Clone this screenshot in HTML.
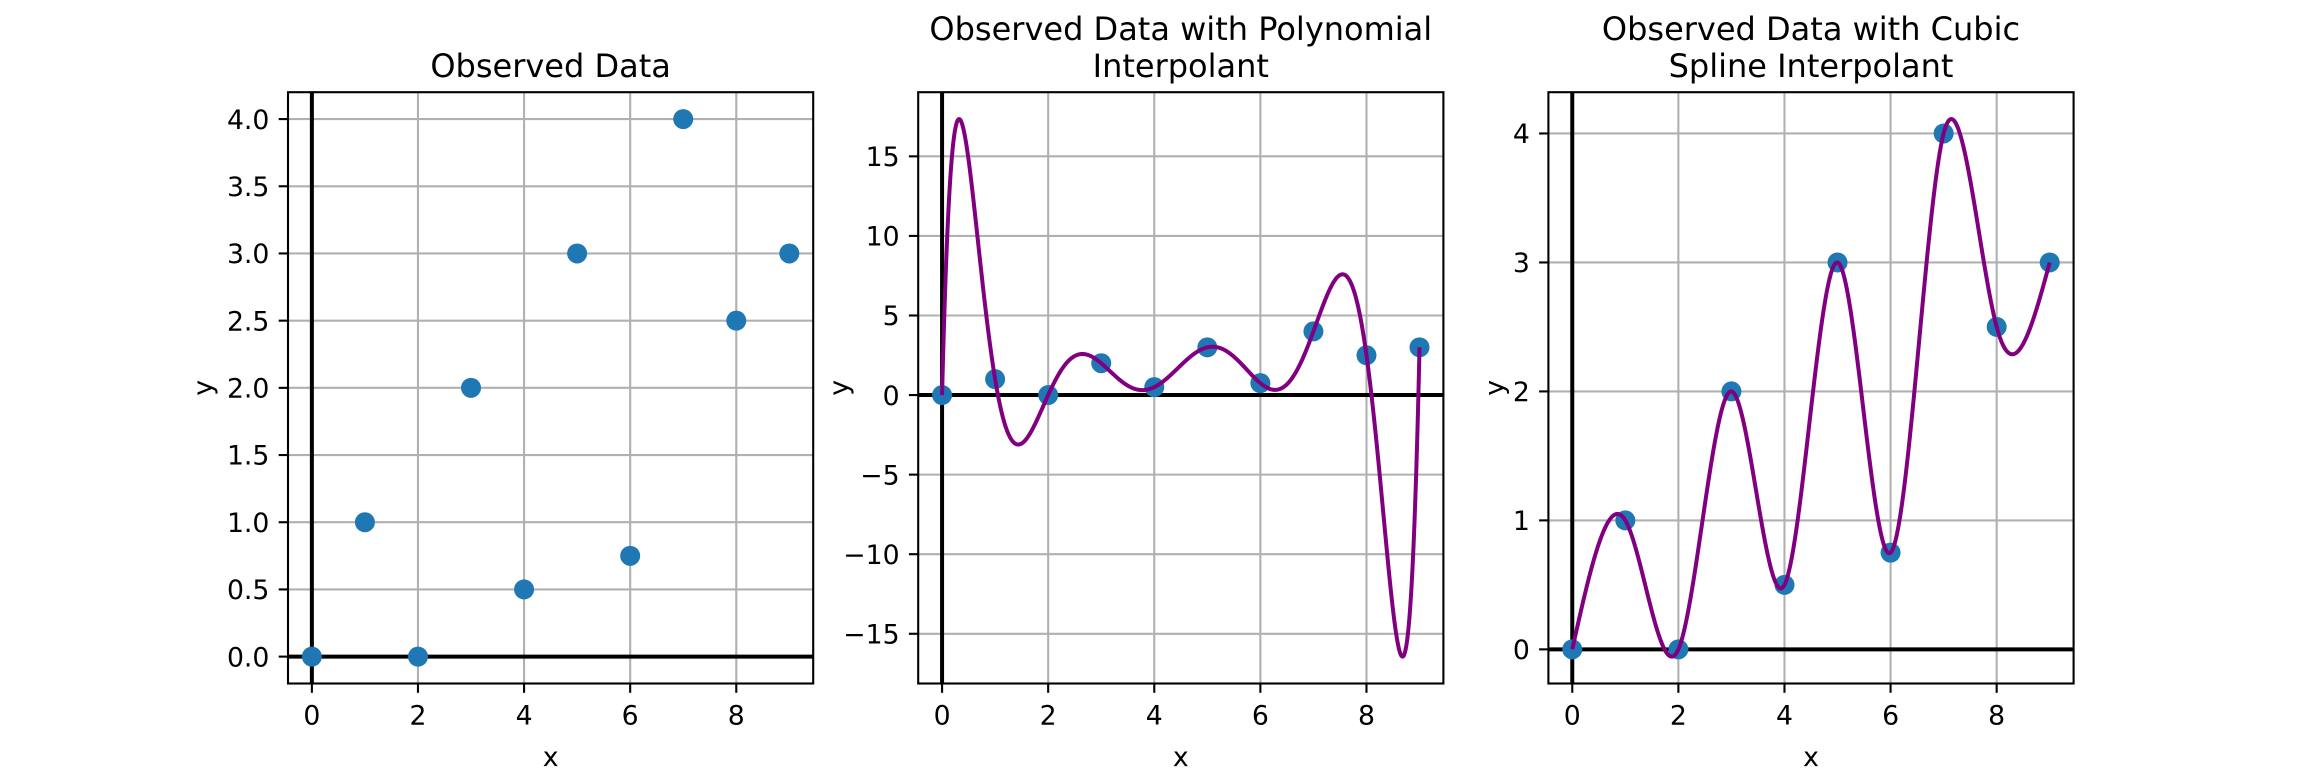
<!DOCTYPE html>
<html><head><meta charset="utf-8"><style>
html,body{margin:0;padding:0;background:#fff}
svg{display:block}
text{font-family:"DejaVu Sans","Liberation Sans",sans-serif;fill:#000}
</style></head><body>
<svg id="fig" width="2304" height="768" viewBox="0 0 2304 768" xmlns="http://www.w3.org/2000/svg"></svg>
<script>
const xData = [0,1,2,3,4,5,6,7,8,9];
const yData = [0,1,0,2,0.5,3,0.75,4,2.5,3];
const xTicks = [0,2,4,6,8];
const yTicks1 = [0,0.5,1,1.5,2,2.5,3,3.5,4];
const yTicks2 = [-15,-10,-5,0,5,10,15];
const yTicks3 = [0,1,2,3,4];
const titles = [["Observed Data"],["Observed Data with Polynomial","Interpolant"],["Observed Data with Cubic","Spline Interpolant"]];

const NS="http://www.w3.org/2000/svg";
const svg=document.getElementById('fig');
function mk(tag,attrs,parent){const e=document.createElementNS(NS,tag);for(const k in attrs)e.setAttribute(k,attrs[k]);(parent||svg).appendChild(e);return e;}

function poly(x){let s=0;for(let i=0;i<xData.length;i++){let l=1;for(let j=0;j<xData.length;j++){if(j!==i)l*=(x-xData[j])/(xData[i]-xData[j]);}s+=yData[i]*l;}return s;}
function solve(A,b){const n=b.length;A=A.map(r=>r.slice());b=b.slice();for(let i=0;i<n;i++){let p=i;for(let r=i+1;r<n;r++)if(Math.abs(A[r][i])>Math.abs(A[p][i]))p=r;[A[i],A[p]]=[A[p],A[i]];[b[i],b[p]]=[b[p],b[i]];for(let r=i+1;r<n;r++){const f=A[r][i]/A[i][i];for(let c=i;c<n;c++)A[r][c]-=f*A[i][c];b[r]-=f*b[i];}}const x=new Array(n).fill(0);for(let i=n-1;i>=0;i--){let s=b[i];for(let c=i+1;c<n;c++)s-=A[i][c]*x[c];x[i]=s/A[i][i];}return x;}
const n=xData.length;const h=[];for(let i=0;i<n-1;i++)h.push(xData[i+1]-xData[i]);
const A=[];const B=[];
for(let i=0;i<n;i++){A.push(new Array(n).fill(0));B.push(0);}
A[0][0]=1;A[n-1][n-1]=1;
for(let i=1;i<n-1;i++){A[i][i-1]=h[i-1];A[i][i]=2*(h[i-1]+h[i]);A[i][i+1]=h[i];B[i]=6*((yData[i+1]-yData[i])/h[i]-(yData[i]-yData[i-1])/h[i-1]);}
const M=solve(A,B);
function spline(x){let i=0;for(let k=0;k<n-1;k++){if(x>=xData[k]&&x<=xData[k+1]){i=k;break;}}const a=xData[i+1]-x,b=x-xData[i],hh=h[i];return M[i]*a*a*a/(6*hh)+M[i+1]*b*b*b/(6*hh)+(yData[i]/hh-M[i]*hh/6)*a+(yData[i+1]/hh-M[i+1]*hh/6)*b;}

const TOP=92.2,BOT=683.5,W=525.2;
const lefts=[288,918.2,1548.4];
const fns=[null,poly,spline];
const yTicksAll=[yTicks1,yTicks2,yTicks3];
const tickFmt=[v=>v.toFixed(1),v=>(v<0?'\u2212'+(-v):String(v)),v=>String(v)];

for(let p=0;p<3;p++){
  const L=lefts[p],R=L+W;
  const g=mk('g',{});
  
  
  const xmin=-0.45,xmax=9.45;
  const fn=fns[p];
  let pts=[];
  if(fn){for(let k=0;k<=900;k++){const x=9*k/900;pts.push([x,fn(x)]);}}
  let lo=Math.min(...yData),hi=Math.max(...yData);
  pts.forEach(q=>{lo=Math.min(lo,q[1]);hi=Math.max(hi,q[1]);});
  const m=(hi-lo)*0.05;const ymin=lo-m,ymax=hi+m;
  const sx=x=>L+(x-xmin)/(xmax-xmin)*W;
  const sy=y=>BOT-(y-ymin)/(ymax-ymin)*(BOT-TOP);
  const cid='clip'+p;
  const cp=mk('clipPath',{id:cid},g);mk('rect',{x:L,y:TOP,width:W,height:BOT-TOP},cp);
  xTicks.forEach(t=>{const e=mk('line',{x1:sx(t),x2:sx(t),y1:TOP,y2:BOT,stroke:'#b0b0b0','stroke-width':2.1},g);});
  yTicksAll[p].forEach(t=>{const e=mk('line',{x1:L,x2:R,y1:sy(t),y2:sy(t),stroke:'#b0b0b0','stroke-width':2.1},g);});
  const ax=mk('line',{x1:L,x2:R,y1:sy(0),y2:sy(0),stroke:'#000','stroke-width':4,'clip-path':'url(#'+cid+')'},g);
  
  const ay=mk('line',{x1:sx(0),x2:sx(0),y1:TOP,y2:BOT,stroke:'#000','stroke-width':4,'clip-path':'url(#'+cid+')'},g);
  
  for(let i=0;i<xData.length;i++){const c=mk('circle',{cx:sx(xData[i]),cy:sy(yData[i]),r:10,fill:'#1f77b4','clip-path':'url(#'+cid+')'},g);}
  if(fn){const d=pts.map((q,k)=>(k?'L':'M')+sx(q[0]).toFixed(2)+' '+sy(q[1]).toFixed(2)).join(' ');
    const ln=mk('path',{d:d,fill:'none',stroke:'#800080','stroke-width':4,'stroke-linejoin':'round','clip-path':'url(#'+cid+')'},g);
    }
  const fr=mk('rect',{x:L,y:TOP,width:W,height:BOT-TOP,fill:'none',stroke:'#000','stroke-width':2.1},g);
  
  xTicks.forEach(t=>{mk('line',{x1:sx(t),x2:sx(t),y1:BOT,y2:BOT+9.3,stroke:'#000','stroke-width':2.1},g);
    const tx=mk('text',{x:sx(t),y:BOT+41,'text-anchor':'middle','font-size':26.7},g);tx.textContent=String(t);
    });
  yTicksAll[p].forEach(t=>{mk('line',{x1:L-9.3,x2:L,y1:sy(t),y2:sy(t),stroke:'#000','stroke-width':2.1},g);
    const tx=mk('text',{x:L-18.6,y:sy(t)+9.7,'text-anchor':'end','font-size':26.7},g);tx.textContent=tickFmt[p](t);
    });
  const xl=mk('text',{x:L+W/2,y:766,'text-anchor':'middle','font-size':26.7},g);xl.textContent='x';
  
  const ylx=p===0?212:(p===1?L-70:L-45);
  const yl=mk('text',{x:ylx,y:(TOP+BOT)/2,'text-anchor':'middle','font-size':26.7,transform:'rotate(-90 '+ylx+' '+((TOP+BOT)/2)+')'},g);yl.textContent='y';
  
  const tl=titles[p];
  tl.forEach((s,k)=>{const base=77-(tl.length-1-k)*37;const t=mk('text',{x:L+W/2,y:base,'text-anchor':'middle','font-size':32},g);t.textContent=s;
    });
}
</script>
</body></html>
